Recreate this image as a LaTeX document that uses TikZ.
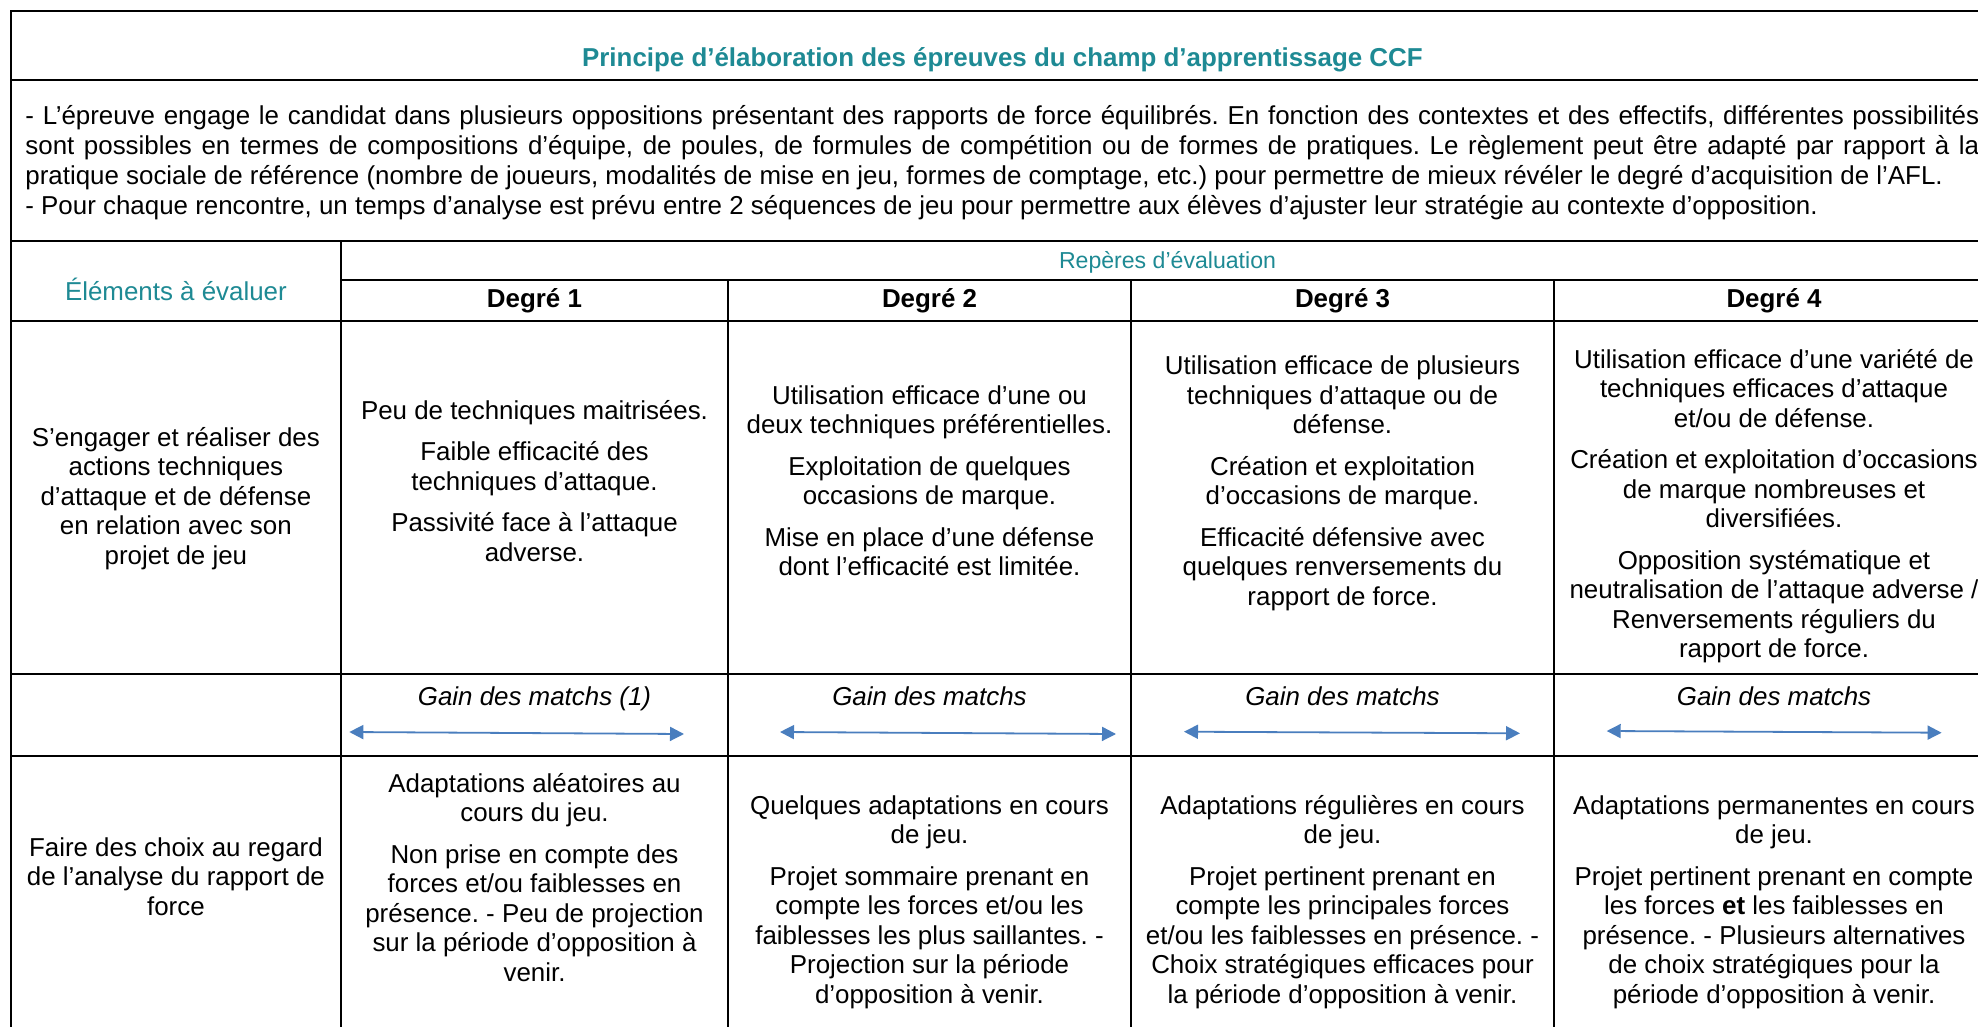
\documentclass[tikz,border=0pt]{standalone}
\usepackage{fontspec}
\setmainfont{Liberation Sans}
\usetikzlibrary{arrows.meta}
\frenchspacing
\definecolor{tealtitle}{RGB}{30,138,148}
\definecolor{arrowblue}{RGB}{74,126,190}
\newcommand\bodysize{\fontsize{25.9}{29.5}\selectfont}
\newcommand\introsize{\fontsize{25.9}{30}\selectfont}
\tikzset{
  gridline/.style={line width=2pt, black},
  cellt/.style={font=\bodysize, align=center, inner sep=0pt, anchor=north},
  headt/.style={font=\bodysize\bfseries, inner sep=0pt, anchor=base},
  gaint/.style={font=\bodysize\itshape, inner sep=0pt, anchor=base},
  tealt/.style={text=tealtitle, inner sep=0pt, anchor=base},
  gainarrow/.style={draw=arrowblue, line width=1.8pt,
    {Triangle[length=14pt,width=14pt]}-{Triangle[length=14pt,width=14pt]}},
}
\begin{document}
\begin{tikzpicture}[x=1pt,y=-1pt]
\useasboundingbox (0,0) rectangle (1978,1027);
\clip (0,0) rectangle (1978,1027);
\fill[white] (0,0) rectangle (1978,1027);

% ---------- grid ----------
\draw[gridline] (10.7,1040) -- (10.7,11) -- (1994,11) -- (1994,1040);
\draw[gridline] (10.7,80.5) -- (1994,80.5);
\draw[gridline] (10.7,240.5) -- (1994,240.5);
\draw[gridline] (341,280) -- (1994,280);
\draw[gridline] (10.7,321) -- (1994,321);
\draw[gridline] (10.7,674) -- (1994,674);
\draw[gridline] (10.7,756) -- (1994,756);
\draw[gridline] (341,240.5) -- (341,1040);
\draw[gridline] (728,280) -- (728,1040);
\draw[gridline] (1131,280) -- (1131,1040);
\draw[gridline] (1554,280) -- (1554,1040);

% ---------- title ----------
\node[tealt, font=\bodysize\bfseries] (title) at (1002.4,66.7)
  {Principe d’élaboration des épreuves du champ d’apprentissage CCF};

% ---------- intro ----------
\node[font=\introsize, align=left, inner sep=0pt, anchor=north west] (intro) at (25.2,103)
  {\strut\makebox[1954pt][s]{- L’épreuve engage le candidat dans plusieurs oppositions présentant des rapports de force équilibrés. En fonction des contextes et des effectifs, différentes possibilités}\\
   \makebox[1954pt][s]{sont possibles en termes de compositions d’équipe, de poules, de formules de compétition ou de formes de pratiques. Le règlement peut être adapté par rapport à la}\\
   pratique sociale de référence (nombre de joueurs, modalités de mise en jeu, formes de comptage, etc.) pour permettre de mieux révéler le degré d’acquisition de l’AFL.\\
   - Pour chaque rencontre, un temps d’analyse est prévu entre 2 séquences de jeu pour permettre aux élèves d’ajuster leur stratégie au contexte d’opposition.};

% ---------- headers ----------
\node[tealt, font=\bodysize] (elements) at (175.9,300) {Éléments à évaluer};
\node[tealt, font=\fontsize{23.1}{27}\selectfont] (reperes) at (1167.5,268.5) {Repères d’évaluation};
\node[headt] (deg1) at (534.5,307.7) {Degré 1};
\node[headt] (deg2) at (929.5,307.7) {Degré 2};
\node[headt] (deg3) at (1342.5,307.7) {Degré 3};
\node[headt] (deg4) at (1774,307.7) {Degré 4};

% ---------- row 1 ----------
\node[cellt] (r1c0) at (175.9,425.35)
  {\strut S’engager et réaliser des\\ actions techniques\\ d’attaque et de défense\\ en relation avec son\\ projet de jeu};
\node[cellt] (r1c1) at (534.5,398.35)
  {\strut Peu de techniques maitrisées.\\[12pt]
   Faible efficacité des\\ techniques d’attaque.\\[12pt]
   Passivité face à l’attaque\\ adverse.};
\node[cellt] (r1c2) at (929.5,383.35)
  {\strut Utilisation efficace d’une ou\\ deux techniques préférentielles.\\[12pt]
   Exploitation de quelques\\ occasions de marque.\\[12pt]
   Mise en place d’une défense\\ dont l’efficacité est limitée.};
\node[cellt] (r1c3) at (1342.5,354.05)
  {\strut Utilisation efficace de plusieurs\\ techniques d’attaque ou de\\ défense.\\[12pt]
   Création et exploitation\\ d’occasions de marque.\\[12pt]
   Efficacité défensive avec\\ quelques renversements du\\ rapport de force.};
\node[cellt] (r1c4) at (1774,347.35)
  {\strut Utilisation efficace d’une variété de\\ techniques efficaces d’attaque\\ et/ou de défense.\\[12pt]
   Création et exploitation d’occasions\\ de marque nombreuses et\\ diversifiées.\\[12pt]
   Opposition systématique et\\ neutralisation de l’attaque adverse /\\ Renversements réguliers du\\ rapport de force.};

% ---------- row 2 ----------
\node[gaint] (g1) at (534.5,705) {Gain des matchs (1)};
\node[gaint] (g2) at (929.5,705) {Gain des matchs};
\node[gaint] (g3) at (1342.5,705) {Gain des matchs};
\node[gaint] (g4) at (1774,705) {Gain des matchs};
\coordinate (a1l) at (349.3,732);  \coordinate (a1r) at (684,734);
\coordinate (a2l) at (780,732);    \coordinate (a2r) at (1116,734);
\coordinate (a3l) at (1184,731.7); \coordinate (a3r) at (1520,733.3);
\coordinate (a4l) at (1606.7,731); \coordinate (a4r) at (1941.6,732.7);
\draw[gainarrow] (a1l) -- (a1r);
\draw[gainarrow] (a2l) -- (a2r);
\draw[gainarrow] (a3l) -- (a3r);
\draw[gainarrow] (a4l) -- (a4r);

% ---------- row 3 ----------
\node[cellt] (r3c0) at (175.9,835.35)
  {\strut Faire des choix au regard\\ de l’analyse du rapport de\\ force};
\node[cellt] (r3c1) at (534.5,771.35)
  {\strut Adaptations aléatoires au\\ cours du jeu.\\[12pt]
   Non prise en compte des\\ forces et/ou faiblesses en\\ présence. - Peu de projection\\ sur la période d’opposition à\\ venir.};
\node[cellt] (r3c2) at (929.5,793.35)
  {\strut Quelques adaptations en cours\\ de jeu.\\[12pt]
   Projet sommaire prenant en\\ compte les forces et/ou les\\ faiblesses les plus saillantes. -\\ Projection sur la période\\ d’opposition à venir.};
\node[cellt] (r3c3) at (1342.5,793.35)
  {\strut Adaptations régulières en cours\\ de jeu.\\[12pt]
   Projet pertinent prenant en\\ compte les principales forces\\ et/ou les faiblesses en présence. -\\ Choix stratégiques efficaces pour\\ la période d’opposition à venir.};
\node[cellt] (r3c4) at (1774,793.35)
  {\strut Adaptations permanentes en cours\\ de jeu.\\[12pt]
   Projet pertinent prenant en compte\\ les forces \textbf{et} les faiblesses en\\ présence. - Plusieurs alternatives\\ de choix stratégiques pour la\\ période d’opposition à venir.};
\end{tikzpicture}
\end{document}
